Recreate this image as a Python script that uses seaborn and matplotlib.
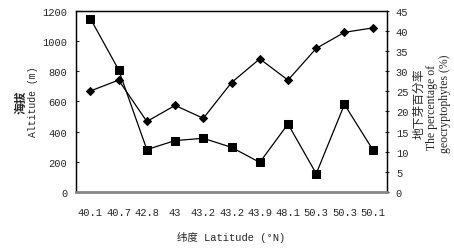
import matplotlib
matplotlib.use('Agg')
import matplotlib.pyplot as plt
import numpy as np
import pandas as pd
import seaborn as sns

# data
latitude_labels = ['40.1', '40.7', '42.8', '43', '43.2', '43.2', '43.9', '48.1', '50.3', '50.3', '50.1']
altitude = [1150, 810, 280, 340, 355, 295, 195, 450, 120, 580, 280]
geocrypto_pct = [25.1, 27.8, 17.5, 21.5, 18.3, 27.2, 33.1, 27.8, 35.7, 39.7, 40.8]

df = pd.DataFrame({
    'pos': np.arange(len(latitude_labels)),
    'altitude': altitude,
    'pct': geocrypto_pct,
})

sns.set_style('white')
plt.rcParams['font.family'] = ['Liberation Mono', 'Noto Sans CJK SC', 'DejaVu Sans']
plt.rcParams['font.size'] = 7.5

W, H = 454, 251
fig, ax = plt.subplots(figsize=(W / 100, H / 100), dpi=100)
fig.subplots_adjust(left=0.168, right=0.852, top=0.952, bottom=0.232)

# altitude line, squares
sns.lineplot(data=df, x='pos', y='altitude', sort=False, color='black', lw=0.9,
             marker='s', markersize=5.8, markeredgecolor='black', ax=ax)
ax.set_ylim(0, 1200)
ax.set_yticks(np.arange(0, 1201, 200))
ax.set_xlim(-0.5, len(latitude_labels) - 0.5)

# percentage line, diamonds on second axis
ax2 = ax.twinx()
sns.lineplot(data=df, x='pos', y='pct', sort=False, color='black', lw=0.9,
             marker='D', markersize=4.3, markeredgecolor='black', ax=ax2)
ax2.set_ylim(0, 45)
ax2.set_yticks(np.arange(0, 46, 5))

# x ticks: marks at category boundaries, labels at centres
ax.set_xticks(np.arange(0.5, len(latitude_labels) - 0.5, 1))
ax.set_xticklabels([])
ax.set_xticks(df['pos'], minor=True)
ax.set_xticklabels(latitude_labels, minor=True)
ax.tick_params(axis='x', which='major', direction='in', length=2, width=0.8, color='black')
ax.tick_params(axis='x', which='minor', length=0, pad=11)
ax.tick_params(axis='y', direction='in', length=2, width=0.8, pad=6.5)
ax2.tick_params(axis='y', direction='inout', length=3, width=0.8, pad=5)

for a in (ax, ax2):
    for side in ['left', 'right', 'top']:
        a.spines[side].set_color('black')
        a.spines[side].set_linewidth(0.9)
    a.spines['bottom'].set_color('#888888')
    a.spines['bottom'].set_linewidth(1.8)

ax.set_xlabel('纬度 Latitude (°N)', labelpad=10)
ax.set_ylabel('')
ax2.set_ylabel('')

# axis titles, one line each
yc = 1 - 102 / H
fig.text(21 / W, yc, '海拔', rotation=90, ha='center', va='center', fontsize=8.5,
         fontweight='bold', family=['Noto Sans CJK SC'])
fig.text(33 / W, yc, 'Altitude (m)', rotation=90, ha='center', va='center', fontsize=7)
fig.text(419 / W, 1 - 104 / H, '地下芽百分率', rotation=90, ha='center', va='center',
         fontsize=8.5, family=['Noto Sans CJK SC'])
fig.text(432 / W, 1 - 107 / H, 'The percentage of', rotation=90, ha='center', va='center',
         fontsize=8.5, family=['Liberation Serif'])
fig.text(445 / W, 1 - 104 / H, 'geocryptophytes (%)', rotation=90, ha='center', va='center',
         fontsize=8.5, family=['Liberation Serif'])

plt.savefig('out.png', dpi=100)
